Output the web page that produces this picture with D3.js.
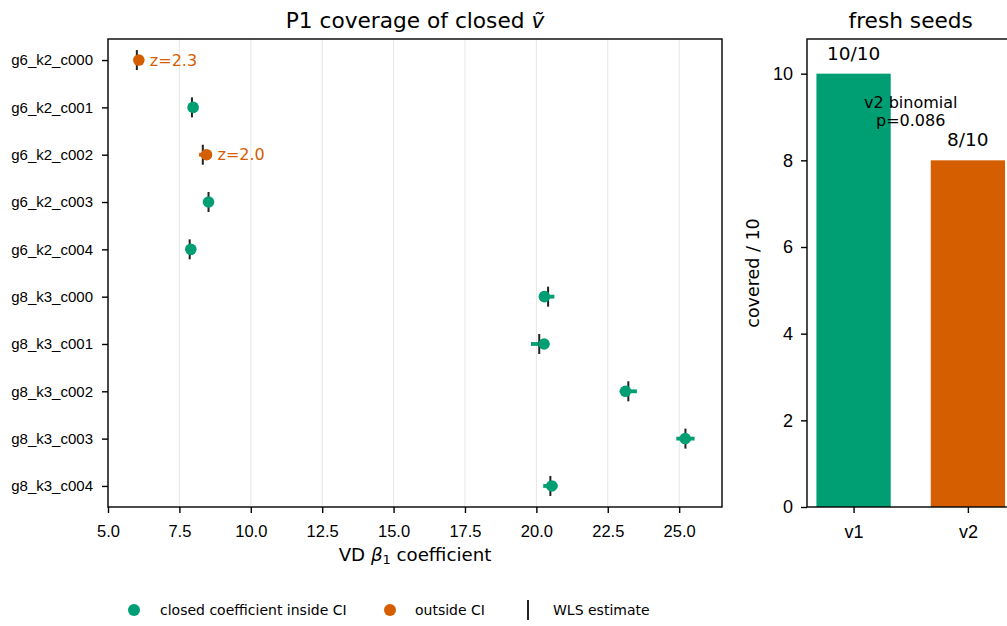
<!DOCTYPE html>
<html>
<head>
<meta charset="utf-8">
<script src="https://cdn.jsdelivr.net/npm/d3@7"></script>
<style>
  html, body { margin: 0; padding: 0; background: #fff; }
  svg { display: block; font-family: "DejaVu Sans", sans-serif; }
  .axis path, .axis line { stroke: #000; stroke-width: 1.4; }
  .axis text { fill: #000; }
</style>
</head>
<body>
<svg id="chart" width="1007" height="626"></svg>
<script>
// ---- data -------------------------------------------------------------
const cases = ["g6_k2_c000", "g6_k2_c001", "g6_k2_c002", "g6_k2_c003", "g6_k2_c004",
               "g8_k3_c000", "g8_k3_c001", "g8_k3_c002", "g8_k3_c003", "g8_k3_c004"];
// closed-form coefficient (dot)
const closedCoef = [6.08, 7.98, 8.45, 8.52, 7.90, 20.28, 20.27, 23.12, 25.21, 20.54];
// WLS point estimate (vertical tick)
const wlsEstimate = [6.01, 7.94, 8.32, 8.52, 7.86, 20.41, 20.10, 23.22, 25.22, 20.49];
// half-width of the WLS confidence interval
const ciHalfWidth = [0.06, 0.07, 0.13, 0.07, 0.07, 0.22, 0.29, 0.30, 0.32, 0.25];
// whether the closed coefficient falls inside the CI
const insideCI = [false, true, false, true, true, true, true, true, true, true];
// z-score labels for the cases outside the CI
const zLabels = ["z=2.3", "", "z=2.0", "", "", "", "", "", "", ""];
const xTicks = [5.0, 7.5, 10.0, 12.5, 15.0, 17.5, 20.0, 22.5, 25.0];

const seedVersions = ["v1", "v2"];
const seedCovered = [10, 8];
const seedTotal = 10;
const seedNote = ["v2 binomial", "p=0.086"];
const seedTicks = [0, 2, 4, 6, 8, 10];

const GREEN = "#009E73", ORANGE = "#D55E00";

const svg = d3.select("#chart");
svg.append("rect").attr("width", 1007).attr("height", 626).attr("fill", "#fff");

// ---- left panel: coefficient coverage ----------------------------------
const L = { left: 108, right: 722, top: 39, bottom: 507 };
const x = d3.scaleLinear().domain([5.0, 26.5]).range([L.left, L.right]);
const y = d3.scaleLinear().domain([-0.445, cases.length - 1 + 0.445]).range([L.top, L.bottom]);

const left = svg.append("g");

// vertical grid
left.append("g").selectAll("line").data(xTicks).join("line")
  .attr("x1", d => x(d)).attr("x2", d => x(d))
  .attr("y1", L.top).attr("y2", L.bottom)
  .attr("stroke", "#e6e6e6").attr("stroke-width", 1);

const rows = cases.map((c, i) => ({
  name: c, i, closed: closedCoef[i], wls: wlsEstimate[i], hw: ciHalfWidth[i],
  inside: insideCI[i], z: zLabels[i]
}));

// CI bars
left.append("g").selectAll("line").data(rows).join("line")
  .attr("x1", d => x(d.wls - d.hw)).attr("x2", d => x(d.wls + d.hw))
  .attr("y1", d => y(d.i)).attr("y2", d => y(d.i))
  .attr("stroke", d => d.inside ? GREEN : ORANGE).attr("stroke-width", 3.8);

// WLS estimate ticks
left.append("g").selectAll("line").data(rows).join("line")
  .attr("x1", d => x(d.wls)).attr("x2", d => x(d.wls))
  .attr("y1", d => y(d.i) - 10).attr("y2", d => y(d.i) + 10)
  .attr("stroke", "#222").attr("stroke-width", 2);

// closed coefficient dots
left.append("g").selectAll("circle").data(rows).join("circle")
  .attr("cx", d => x(d.closed)).attr("cy", d => y(d.i)).attr("r", 5.8)
  .attr("fill", d => d.inside ? GREEN : ORANGE);

// z-score annotations
left.append("g").selectAll("text").data(rows.filter(d => d.z)).join("text")
  .attr("x", d => x(d.closed) + 11).attr("y", d => y(d.i))
  .attr("dy", "0.36em").attr("font-size", 16).attr("fill", ORANGE)
  .text(d => d.z);

// axes
left.append("g").attr("class", "axis")
  .attr("transform", `translate(0,${L.bottom})`)
  .call(d3.axisBottom(x).tickValues(xTicks).tickFormat(d3.format(".1f")).tickSize(6).tickPadding(12))
  .call(g => g.selectAll("text").attr("font-size", 16.5))
  .call(g => g.select(".domain").remove());

left.append("g").attr("class", "axis")
  .attr("transform", `translate(${L.left},0)`)
  .call(d3.axisLeft(y).tickValues(d3.range(cases.length)).tickFormat(i => cases[i]).tickSize(6).tickPadding(9))
  .call(g => g.selectAll("text").attr("font-size", 15))
  .call(g => g.select(".domain").remove());

left.append("rect")
  .attr("x", L.left).attr("y", L.top)
  .attr("width", L.right - L.left).attr("height", L.bottom - L.top)
  .attr("fill", "none").attr("stroke", "#000").attr("stroke-width", 1.4);

// title
const t1 = left.append("text")
  .attr("x", (L.left + L.right) / 2).attr("y", 27.5)
  .attr("text-anchor", "middle").attr("font-size", 21.7).attr("fill", "#000");
t1.append("tspan").text("P1 coverage of closed ");
t1.append("tspan").attr("font-style", "italic").text("ṽ");

// x label
const xl = left.append("text")
  .attr("x", (L.left + L.right) / 2).attr("y", 561)
  .attr("text-anchor", "middle").attr("font-size", 18.2).attr("fill", "#000");
xl.append("tspan").text("VD ");
xl.append("tspan").attr("font-style", "italic").text("β");
xl.append("tspan").attr("font-size", 13).attr("dy", 3).text("1");
xl.append("tspan").attr("dy", -3).text(" coefficient");

// ---- right panel: fresh seeds ------------------------------------------
const R = { left: 807, top: 39, bottom: 507 };
const barW = 0.65;
const xr = d3.scaleLinear().domain([-0.4075, seedVersions.length - 1 + 0.4075])
  .range([R.left, R.left + 1.815 * 114.3]);
const yr = d3.scaleLinear().domain([0, 10.8]).range([R.bottom, R.top]);

const right = svg.append("g");

right.append("g").selectAll("rect").data(seedCovered).join("rect")
  .attr("x", (d, i) => xr(i - barW / 2)).attr("width", (d, i) => xr(i + barW / 2) - xr(i - barW / 2))
  .attr("y", d => yr(d)).attr("height", d => yr(0) - yr(d))
  .attr("fill", (d, i) => i === 0 ? GREEN : ORANGE);

right.append("g").selectAll("text").data(seedCovered).join("text")
  .attr("x", (d, i) => xr(i)).attr("y", d => yr(d + 0.32))
  .attr("text-anchor", "middle").attr("font-size", 18.5).attr("fill", "#000")
  .text(d => `${d}/${seedTotal}`);

const note = right.append("text")
  .attr("x", xr((seedVersions.length - 1) / 2)).attr("y", yr(9.2))
  .attr("text-anchor", "middle").attr("font-size", 16).attr("fill", "#000");
note.selectAll("tspan").data(seedNote).join("tspan")
  .attr("x", xr((seedVersions.length - 1) / 2))
  .attr("dy", (d, i) => i === 0 ? 0 : 18)
  .text(d => d);

right.append("g").attr("class", "axis")
  .attr("transform", `translate(0,${R.bottom})`)
  .call(d3.axisBottom(xr).tickValues(d3.range(seedVersions.length)).tickFormat(i => seedVersions[i]).tickSize(6).tickPadding(12))
  .call(g => g.selectAll("text").attr("font-size", 18))
  .call(g => g.select(".domain").remove());

right.append("g").attr("class", "axis")
  .attr("transform", `translate(${R.left},0)`)
  .call(d3.axisLeft(yr).tickValues(seedTicks).tickFormat(d3.format("d")).tickSize(6).tickPadding(8))
  .call(g => g.selectAll("text").attr("font-size", 18))
  .call(g => g.select(".domain").remove());

right.append("rect")
  .attr("x", R.left).attr("y", R.top)
  .attr("width", xr.range()[1] - R.left).attr("height", R.bottom - R.top)
  .attr("fill", "none").attr("stroke", "#000").attr("stroke-width", 1.4);

right.append("text")
  .attr("x", (xr.range()[0] + xr.range()[1]) / 2).attr("y", 27.5)
  .attr("text-anchor", "middle").attr("font-size", 21.7).attr("fill", "#000")
  .text("fresh seeds");

right.append("text")
  .attr("transform", `translate(758.5,${(R.top + R.bottom) / 2}) rotate(-90)`)
  .attr("text-anchor", "middle").attr("font-size", 17.5).attr("fill", "#000")
  .text(`covered / ${seedTotal}`);

// ---- legend ------------------------------------------------------------
const leg = svg.append("g").attr("font-size", 14).attr("fill", "#000");
const ly = 610;
leg.append("circle").attr("cx", 134).attr("cy", ly).attr("r", 6).attr("fill", GREEN);
leg.append("text").attr("x", 160).attr("y", ly).attr("dy", "0.36em").text("closed coefficient inside CI");
leg.append("circle").attr("cx", 390).attr("cy", ly).attr("r", 6).attr("fill", ORANGE);
leg.append("text").attr("x", 415).attr("y", ly).attr("dy", "0.36em").text("outside CI");
leg.append("line").attr("x1", 528).attr("x2", 528).attr("y1", ly - 10).attr("y2", ly + 10)
  .attr("stroke", "#222").attr("stroke-width", 2);
leg.append("text").attr("x", 553).attr("y", ly).attr("dy", "0.36em").text("WLS estimate");
</script>
</body>
</html>
